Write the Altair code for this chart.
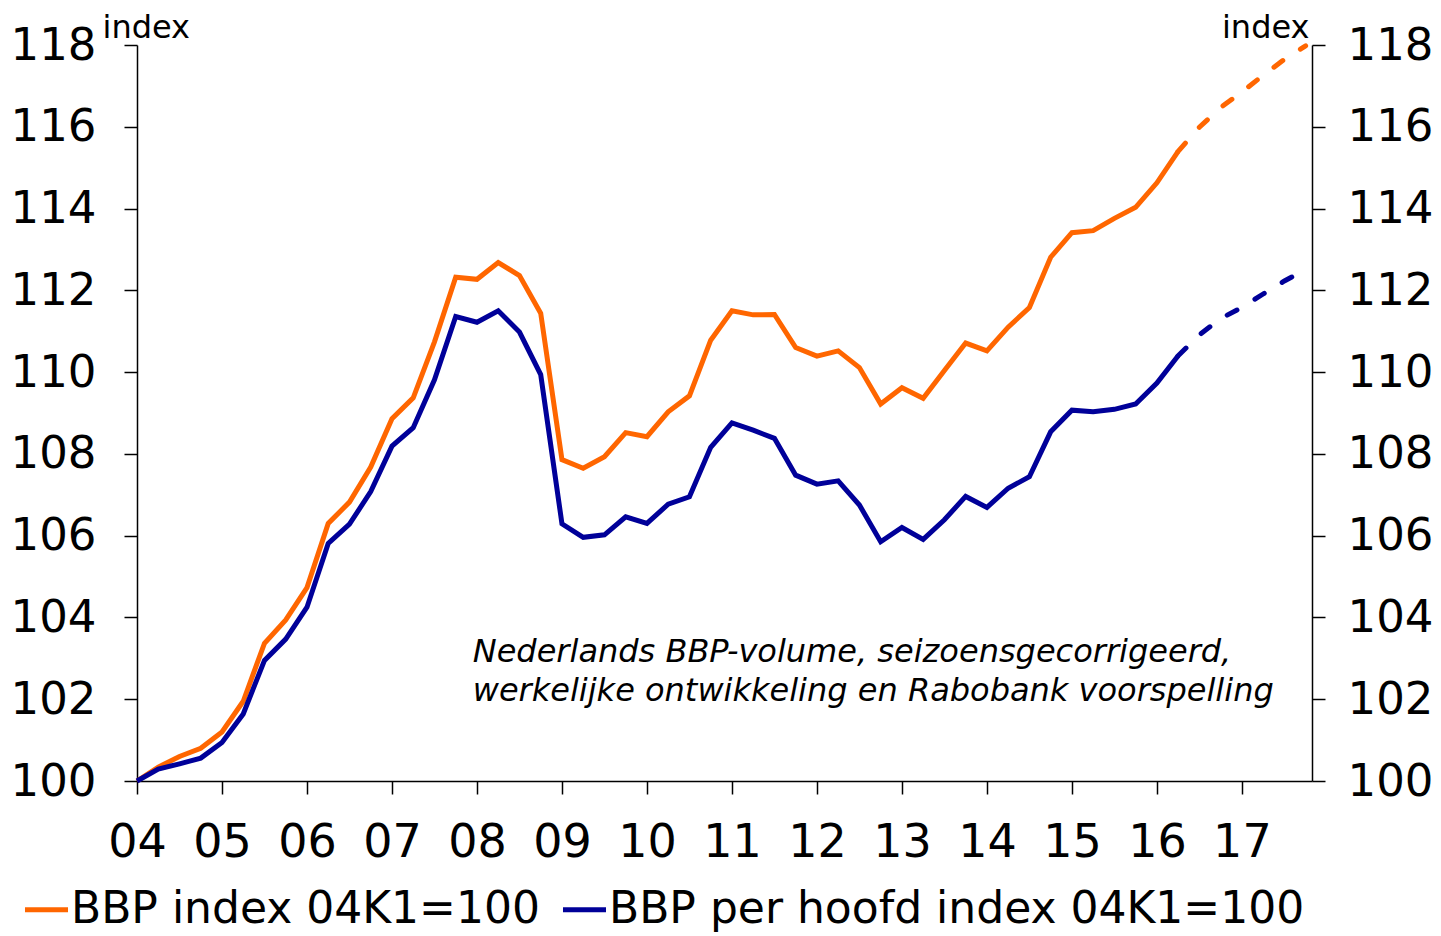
import altair as alt
import pandas as pd

quarters = list(range(56))
year_labels = ["04", "05", "06", "07", "08", "09", "10", "11", "12", "13", "14", "15", "16", "17"]
year_ticks = [4 * i for i in range(len(year_labels))]

bbp = [100.0, 100.34, 100.6, 100.8, 101.2, 101.95, 103.37, 103.94, 104.73, 106.3,
       106.82, 107.68, 108.86, 109.37, 110.74, 112.32, 112.27, 112.68, 112.36, 111.44,
       107.86, 107.65, 107.93, 108.52, 108.42, 109.03, 109.42, 110.78, 111.5, 111.4,
       111.41, 110.6, 110.39, 110.52, 110.11, 109.22, 109.62, 109.36, 110.04, 110.71,
       110.52, 111.1, 111.58, 112.81, 113.41, 113.46, 113.76, 114.03, 114.63, 115.4,
       115.99, 116.47, 116.85, 117.26, 117.65, 117.98]
bbp_per_hoofd = [100.0, 100.29, 100.42, 100.56, 100.94, 101.64, 102.95, 103.47, 104.25, 105.81,
                 106.28, 107.08, 108.19, 108.64, 109.81, 111.36, 111.22, 111.5, 110.98, 109.94,
                 106.29, 105.96, 106.02, 106.46, 106.3, 106.77, 106.95, 108.16, 108.76, 108.58,
                 108.38, 107.48, 107.26, 107.34, 106.75, 105.85, 106.2, 105.91, 106.39, 106.96,
                 106.69, 107.16, 107.44, 108.54, 109.07, 109.03, 109.09, 109.22, 109.73, 110.4,
                 110.91, 111.31, 111.58, 111.91, 112.23, 112.5]

series_names = ["BBP index 04K1=100", "BBP per hoofd index 04K1=100"]
series_colors = ["#FF6600", "#000099"]
forecast_start = 49
y_ticks = list(range(100, 119, 2))

note_lines = ["Nederlands BBP-volume, seizoensgecorrigeerd,",
              "werkelijke ontwikkeling en Rabobank voorspelling"]
note_q = [15.8]
note_value = [102.9]

rows = []
for q, a, b in zip(quarters, bbp, bbp_per_hoofd):
    rows.append({"q": q, "serie": series_names[0], "v": a})
    rows.append({"q": q, "serie": series_names[1], "v": b})
df = pd.DataFrame(rows)
actual = df[df.q <= forecast_start]
forecast = df[df.q >= forecast_start]
note_df = pd.DataFrame({"q": note_q, "v": note_value, "t": ["\n".join(note_lines)]})

FONT = "DejaVu Sans"
label_expr = "[" + ",".join(f"'{y}'" for y in year_labels) + "][round(datum.value / 4)]"

x_scale = alt.Scale(domain=[0, 55.3], nice=False, zero=False)
y_scale = alt.Scale(domain=[100, 118], nice=False, zero=False)

x_axis = alt.Axis(values=year_ticks, labelExpr=label_expr, title=None, grid=False,
                  labelFont=FONT, labelFontSize=46, labelColor="black", labelFlush=False,
                  labelPadding=26, tickSize=13, labelBaseline="top", labelOverlap=False)
x_enc = alt.X("q:Q", scale=x_scale, axis=x_axis)

common_y = dict(values=y_ticks, grid=False, labelFont=FONT, labelFontSize=45,
                labelColor="black", tickSize=13, labelFlush=False, labelOverlap=False,
                title="index", titleAngle=0, titleFont=FONT, titleFontSize=32,
                titleFontWeight="normal", titleColor="black", titleBaseline="alphabetic",
                titleY=-8)

y_left = alt.Y("v:Q", scale=y_scale,
               axis=alt.Axis(orient="left", titleX=-35, titleAlign="left",
                             labelPadding=28, **common_y))
y_right = alt.Y("v:Q", scale=y_scale,
                axis=alt.Axis(orient="right", titleX=-3, titleAlign="right",
                              labelPadding=22, **common_y))

color = alt.Color("serie:N", scale=alt.Scale(domain=series_names, range=series_colors),
                  legend=alt.Legend(title=None, orient="none", legendX=-115, legendY=840,
                                    direction="horizontal", symbolType="stroke",
                                    symbolSize=1850, symbolStrokeWidth=5,
                                    labelFont=FONT, labelFontSize=44, labelColor="black",
                                    labelLimit=0, columnPadding=12, labelOffset=0))

solid = alt.Chart(actual).mark_line(strokeWidth=5).encode(
    x=x_enc, y=y_left, color=color, order="q:Q")
dashed = alt.Chart(forecast).mark_line(strokeWidth=5, strokeDash=[11, 21], strokeCap="round").encode(
    x=x_enc, y=y_right, color=color, order="q:Q")
note = alt.Chart(note_df).mark_text(align="left", baseline="alphabetic", font=FONT,
                                    fontStyle="italic", fontSize=32, lineBreak="\n",
                                    lineHeight=39, color="black").encode(
    x=x_enc, y=alt.Y("v:Q", scale=y_scale, axis=None), text="t:N")

chart = alt.layer(solid, dashed, note).resolve_scale(y="shared").resolve_axis(y="independent").properties(
    width=1175, height=736,
    autosize=alt.AutoSizeParams(type="none"),
    padding={"left": 129, "top": 37, "right": 121, "bottom": 155},
).configure_view(stroke=None).configure_axis(
    domainColor="black", domainWidth=1.5, tickColor="black", tickWidth=1.5
)

chart.save("out.html", embed_options={"renderer": "svg", "actions": False})
